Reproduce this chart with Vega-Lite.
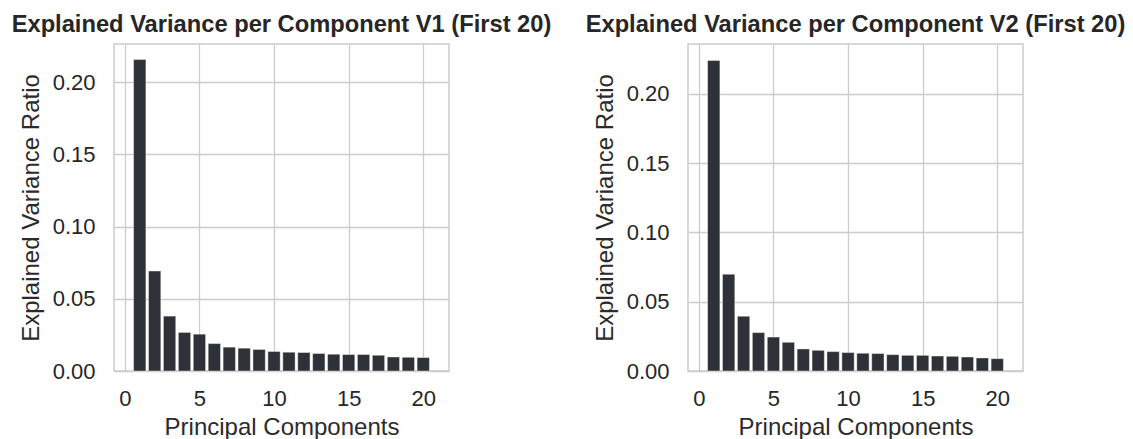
{
  "$schema": "https://vega.github.io/schema/vega-lite/v6.json",
  "background": "white",
  "padding": {"left": 10, "top": 12, "right": 0, "bottom": 0},
  "bounds": "flush",
  "spacing": 239,
  "config": {
    "font": "Liberation Sans",
    "view": {"stroke": "#cccccc", "strokeWidth": 1.5},
    "axis": {
      "domain": false, "ticks": false, "grid": true,
      "gridColor": "#cccccc", "gridWidth": 1.3,
      "labelFont": "Liberation Sans", "labelFontSize": 22, "labelColor": "#262626",
      "titleFont": "Liberation Sans", "titleFontSize": 24, "titleFontWeight": "normal", "titleColor": "#2b2b2b"
    },
    "axisX": {"labelPadding": 17, "titlePadding": 6},
    "axisY": {"labelPadding": 19, "titlePadding": 9},
    "title": {"font": "Liberation Sans", "fontSize": 23.7, "fontWeight": "bold", "color": "#262626", "frame": "group", "anchor": "middle", "offset": 7}
  },
  "datasets": {
    "v1": [
      {"pc": 1, "ratio": 0.2156}, {"pc": 2, "ratio": 0.0692}, {"pc": 3, "ratio": 0.0380}, {"pc": 4, "ratio": 0.0267},
      {"pc": 5, "ratio": 0.0255}, {"pc": 6, "ratio": 0.0190}, {"pc": 7, "ratio": 0.0165}, {"pc": 8, "ratio": 0.0158},
      {"pc": 9, "ratio": 0.0149}, {"pc": 10, "ratio": 0.0135}, {"pc": 11, "ratio": 0.0130}, {"pc": 12, "ratio": 0.0128},
      {"pc": 13, "ratio": 0.0121}, {"pc": 14, "ratio": 0.0116}, {"pc": 15, "ratio": 0.0114}, {"pc": 16, "ratio": 0.0114},
      {"pc": 17, "ratio": 0.0109}, {"pc": 18, "ratio": 0.0097}, {"pc": 19, "ratio": 0.0095}, {"pc": 20, "ratio": 0.0093}
    ],
    "v2": [
      {"pc": 1, "ratio": 0.2240}, {"pc": 2, "ratio": 0.0698}, {"pc": 3, "ratio": 0.0395}, {"pc": 4, "ratio": 0.0277},
      {"pc": 5, "ratio": 0.0245}, {"pc": 6, "ratio": 0.0207}, {"pc": 7, "ratio": 0.0159}, {"pc": 8, "ratio": 0.0149},
      {"pc": 9, "ratio": 0.0140}, {"pc": 10, "ratio": 0.0133}, {"pc": 11, "ratio": 0.0128}, {"pc": 12, "ratio": 0.0126},
      {"pc": 13, "ratio": 0.0118}, {"pc": 14, "ratio": 0.0113}, {"pc": 15, "ratio": 0.0113}, {"pc": 16, "ratio": 0.0108},
      {"pc": 17, "ratio": 0.0106}, {"pc": 18, "ratio": 0.0101}, {"pc": 19, "ratio": 0.0094}, {"pc": 20, "ratio": 0.0089}
    ]
  },
  "hconcat": [
    {
      "title": "Explained Variance per Component V1 (First 20)",
      "width": 335, "height": 327,
      "data": {"name": "v1"},
      "mark": {"type": "bar", "width": 12.3, "color": "#2e3138", "stroke": "#ffffff", "strokeWidth": 0.4},
      "encoding": {
        "x": {"field": "pc", "type": "quantitative", "title": "Principal Components",
              "scale": {"domain": [-0.39, 21.39], "nice": false, "zero": false},
              "axis": {"values": [0, 5, 10, 15, 20]}},
        "y": {"field": "ratio", "type": "quantitative", "title": "Explained Variance Ratio",
              "scale": {"domain": [0, 0.2264], "nice": false},
              "axis": {"values": [0, 0.05, 0.1, 0.15, 0.2], "format": ".2f"}}
      }
    },
    {
      "title": "Explained Variance per Component V2 (First 20)",
      "width": 335, "height": 327,
      "data": {"name": "v2"},
      "mark": {"type": "bar", "width": 12.3, "color": "#2e3138", "stroke": "#ffffff", "strokeWidth": 0.4},
      "encoding": {
        "x": {"field": "pc", "type": "quantitative", "title": "Principal Components",
              "scale": {"domain": [-0.39, 21.39], "nice": false, "zero": false},
              "axis": {"values": [0, 5, 10, 15, 20]}},
        "y": {"field": "ratio", "type": "quantitative", "title": "Explained Variance Ratio",
              "scale": {"domain": [0, 0.2359], "nice": false},
              "axis": {"values": [0, 0.05, 0.1, 0.15, 0.2], "format": ".2f"}}
      }
    }
  ]
}
